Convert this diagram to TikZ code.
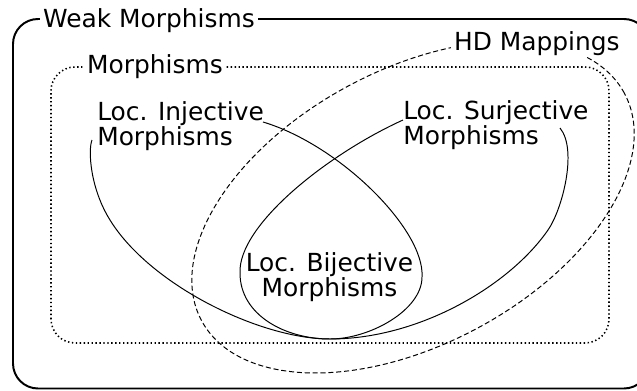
\documentclass[tikz,border=0pt]{standalone}
\usepackage{fontspec}
\setsansfont{DejaVu Sans}
\begin{document}
\begin{tikzpicture}[x=0.025cm, y=0.025cm,
  every node/.style={font=\sffamily\fontsize{17.7}{17.4}\selectfont},
  set label/.style={align=left, anchor=base west, inner sep=0pt},
  box label/.style={fill=white, anchor=base west, inner xsep=2pt, inner ysep=1pt},
  outer box/.style={line width=1.4pt, rounded corners=0.625cm},
  inner box/.style={line width=1.1pt, dash pattern=on 1pt off 1.8pt, rounded corners=0.6cm},
  hd line/.style={line width=0.7pt, dash pattern=on 3.6pt off 2pt},
  set line/.style={line width=0.7pt}]
  \clip (0,0) rectangle (637,390);

  % frames
  \draw[outer box] (13,1.5) rectangle (649,371);
  \draw[inner box] (51,47) rectangle (609,323);

  % hd mappings
  \draw[hd line, rotate around={28.3:(413,183)}] (413,183) ellipse [x radius=6cm, y radius=3.43cm];

  % injective loop
  \draw[set line] (263,268) .. controls (340,245) and (425,160) .. (422,113)
    .. controls (422,80) and (370,51) .. (330,51)
    .. controls (260,51) and (150,105) .. (110,170)
    .. controls (90,202) and (88,240) .. (92,250);
  % surjective loop
  \draw[set line] (403,270) .. controls (328,236) and (238,165) .. (240,117)
    .. controls (240,75) and (285,51) .. (330,51)
    .. controls (420,51) and (510,105) .. (548,160)
    .. controls (562,180) and (578,240) .. (560,262);

  \node[box label] (weak) at (40,363) {Weak Morphisms};
  \node[box label] (morph) at (84,317) {Morphisms};
  \node[box label] (hd) at (451,340) {HD Mappings};

  \node[set label] (inj) at (97,245) {Loc. Injective\\Morphisms};
  \node[set label] (surj) at (403,246) {Loc. Surjective\\Morphisms};
  \node[set label, align=center, anchor=base] (bij) at (329.5,94) {Loc. Bijective\\Morphisms};
\end{tikzpicture}
\end{document}
